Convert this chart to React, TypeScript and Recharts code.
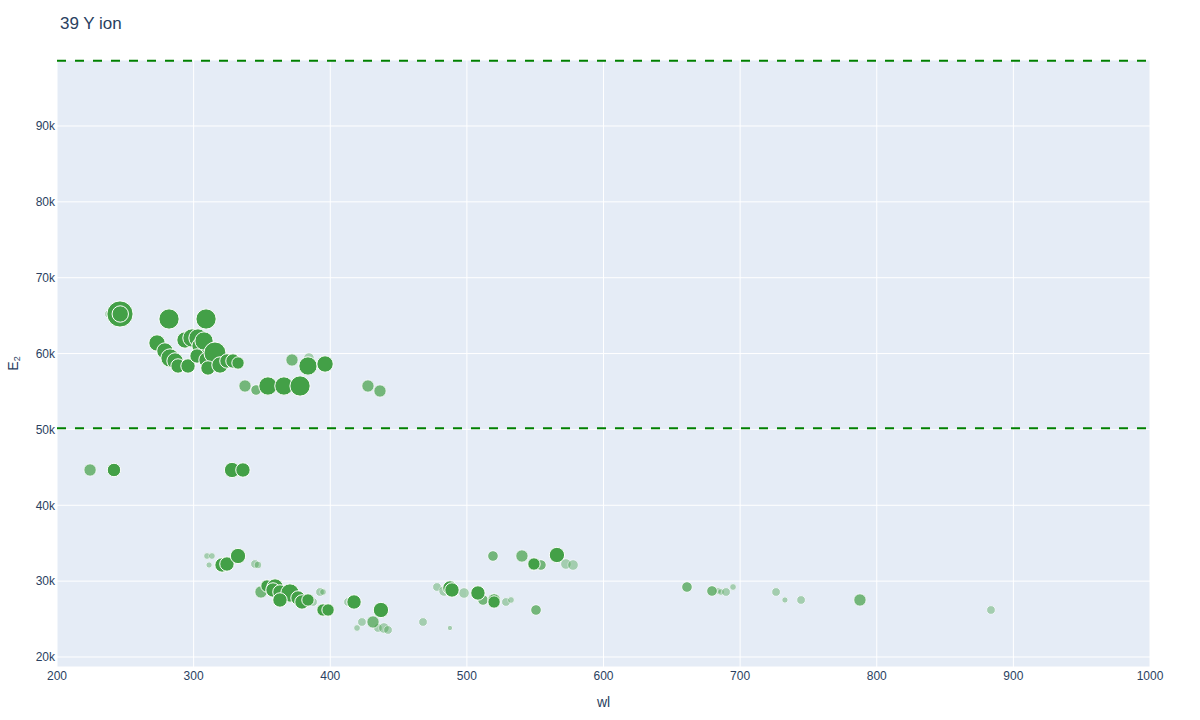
import React from 'react';
import {
  ScatterChart,
  Scatter,
  XAxis,
  YAxis,
  ZAxis,
  CartesianGrid,
  ReferenceLine,
} from 'recharts';

// wl = wavelength (nm), e = upper level energy (cm-1), i = relative line strength (0-100)
const strongLines = [
  { wl: 246.1, e: 65216, i: 100 },
  { wl: 246.3, e: 65216, i: 38 },
  { wl: 282.0, e: 64556, i: 59 },
  { wl: 309.1, e: 64556, i: 59 },
  { wl: 273.2, e: 61393, i: 38 },
  { wl: 279.0, e: 60339, i: 38 },
  { wl: 282.7, e: 59416, i: 48 },
  { wl: 286.4, e: 59020, i: 38 },
  { wl: 288.6, e: 58361, i: 29 },
  { wl: 295.9, e: 58361, i: 29 },
  { wl: 293.7, e: 61788, i: 38 },
  { wl: 298.8, e: 62052, i: 48 },
  { wl: 303.2, e: 62052, i: 48 },
  { wl: 304.7, e: 60998, i: 38 },
  { wl: 307.6, e: 61657, i: 48 },
  { wl: 302.5, e: 59680, i: 29 },
  { wl: 309.8, e: 59153, i: 38 },
  { wl: 315.6, e: 60075, i: 70 },
  { wl: 310.5, e: 58098, i: 29 },
  { wl: 319.3, e: 58493, i: 38 },
  { wl: 324.4, e: 59020, i: 29 },
  { wl: 328.8, e: 59020, i: 29 },
  { wl: 332.5, e: 58757, i: 21 },
  { wl: 354.4, e: 55724, i: 48 },
  { wl: 366.1, e: 55724, i: 48 },
  { wl: 377.9, e: 55724, i: 59 },
  { wl: 383.7, e: 58361, i: 48 },
  { wl: 396.2, e: 58625, i: 38 },
  { wl: 241.7, e: 44651, i: 25 },
  { wl: 328.1, e: 44651, i: 33 },
  { wl: 336.1, e: 44651, i: 29 },
  { wl: 320.8, e: 32127, i: 29 },
  { wl: 324.4, e: 32258, i: 29 },
  { wl: 332.5, e: 33313, i: 33 },
  { wl: 353.7, e: 29358, i: 21 },
  { wl: 359.6, e: 29226, i: 38 },
  { wl: 358.1, e: 28832, i: 29 },
  { wl: 363.2, e: 28569, i: 29 },
  { wl: 370.5, e: 28437, i: 48 },
  { wl: 363.2, e: 27514, i: 29 },
  { wl: 376.4, e: 27778, i: 29 },
  { wl: 379.3, e: 27251, i: 29 },
  { wl: 383.7, e: 27514, i: 21 },
  { wl: 394.7, e: 26196, i: 21 },
  { wl: 398.4, e: 26196, i: 21 },
  { wl: 417.4, e: 27251, i: 29 },
  { wl: 437.1, e: 26196, i: 33 },
  { wl: 487.6, e: 29095, i: 29 },
  { wl: 489.1, e: 28832, i: 29 },
  { wl: 508.1, e: 28437, i: 29 },
  { wl: 519.9, e: 27514, i: 21 },
  { wl: 519.9, e: 27251, i: 21 },
  { wl: 549.1, e: 32258, i: 21 },
  { wl: 565.9, e: 33445, i: 33 },
];

const mediumLines = [
  { wl: 337.6, e: 55724, i: 21 },
  { wl: 345.7, e: 55197, i: 15 },
  { wl: 372.0, e: 59153, i: 21 },
  { wl: 427.6, e: 55724, i: 21 },
  { wl: 436.4, e: 55065, i: 21 },
  { wl: 224.2, e: 44651, i: 21 },
  { wl: 349.3, e: 28569, i: 21 },
  { wl: 431.3, e: 24614, i: 21 },
  { wl: 519.1, e: 33313, i: 15 },
  { wl: 540.3, e: 33313, i: 21 },
  { wl: 548.4, e: 32127, i: 15 },
  { wl: 554.2, e: 32127, i: 15 },
  { wl: 511.8, e: 27514, i: 15 },
  { wl: 550.6, e: 26196, i: 15 },
  { wl: 661.1, e: 29226, i: 15 },
  { wl: 679.4, e: 28701, i: 15 },
  { wl: 787.7, e: 27514, i: 21 },
];

const weakLines = [
  { wl: 238.1, e: 65216, i: 9.5 },
  { wl: 384.4, e: 59416, i: 15 },
  { wl: 309.8, e: 33313, i: 5 },
  { wl: 313.4, e: 33313, i: 5 },
  { wl: 311.3, e: 32127, i: 4 },
  { wl: 344.9, e: 32258, i: 9.5 },
  { wl: 347.1, e: 32127, i: 7 },
  { wl: 387.4, e: 27251, i: 9.5 },
  { wl: 392.5, e: 28569, i: 9.5 },
  { wl: 394.7, e: 28569, i: 5 },
  { wl: 413.0, e: 27251, i: 9.5 },
  { wl: 419.6, e: 23823, i: 5 },
  { wl: 423.2, e: 24614, i: 9.5 },
  { wl: 434.9, e: 23823, i: 9.5 },
  { wl: 439.3, e: 23823, i: 15 },
  { wl: 442.3, e: 23559, i: 9.5 },
  { wl: 467.9, e: 24614, i: 9.5 },
  { wl: 487.6, e: 23823, i: 2.4 },
  { wl: 478.1, e: 29226, i: 9.5 },
  { wl: 483.3, e: 28701, i: 15 },
  { wl: 497.9, e: 28437, i: 15 },
  { wl: 528.6, e: 27251, i: 9.5 },
  { wl: 532.3, e: 27514, i: 5 },
  { wl: 572.5, e: 32258, i: 15 },
  { wl: 577.7, e: 32127, i: 15 },
  { wl: 683.8, e: 28701, i: 5 },
  { wl: 686.0, e: 28569, i: 5 },
  { wl: 689.7, e: 28569, i: 9.5 },
  { wl: 694.8, e: 29226, i: 5 },
  { wl: 726.3, e: 28569, i: 9.5 },
  { wl: 732.8, e: 27514, i: 4 },
  { wl: 744.6, e: 27514, i: 9.5 },
  { wl: 883.6, e: 26196, i: 9.5 },
];

// ionization limits (cm-1)
const ionLimits = [50146, 98590];

const xTicks = [200, 300, 400, 500, 600, 700, 800, 900, 1000];
const yTicks = [20000, 30000, 40000, 50000, 60000, 70000, 80000, 90000];

const FONT = '"Liberation Sans", Arial, sans-serif';
const TEXT = '#2a3f5f';
const GREEN = '#43a047';

const dot = (opacity: number) => (p: any) => {
  const r = p.width ? p.width / 2 : Math.sqrt((p.size || 64) / Math.PI);
  return (
    <circle
      cx={p.cx}
      cy={p.cy}
      r={r}
      fill={GREEN}
      stroke="#fff"
      strokeWidth={1}
      opacity={opacity}
    />
  );
};

const YLabel = (props: any) => {
  const vb = props.viewBox || { x: 0, y: 60, width: 57, height: 607 };
  const cx = 13;
  const cy = vb.y + vb.height / 2;
  return (
    <text
      x={cx}
      y={cy}
      transform={`rotate(-90 ${cx} ${cy})`}
      textAnchor="middle"
      dominantBaseline="central"
      fill={TEXT}
      fontFamily={FONT}
      fontSize={14}
    >
      E<tspan fontSize={9} dy={4}>2</tspan>
    </text>
  );
};

const XLabel = (props: any) => {
  const vb = props.viewBox || { x: 57, y: 667, width: 1093, height: 53 };
  return (
    <text
      x={vb.x + vb.width / 2}
      y={707}
      textAnchor="middle"
      fill={TEXT}
      fontFamily={FONT}
      fontSize={14}
    >
      wl
    </text>
  );
};

export default function App() {
  return (
    <div style={{ position: 'absolute', left: 0, top: 0, width: 1200, height: 720, background: '#fff' }}>
      <div
        style={{
          position: 'absolute',
          left: 60,
          top: 13,
          fontFamily: FONT,
          fontSize: 17,
          color: TEXT,
          lineHeight: '22px',
        }}
      >
        39 Y ion
      </div>
      <ScatterChart width={1200} height={720} margin={{ top: 60, right: 50, bottom: 0, left: 0 }}>
        <CartesianGrid fill="#e5ecf6" stroke="#fff" strokeWidth={1} />
        <XAxis
          type="number"
          dataKey="wl"
          domain={[200, 1000]}
          ticks={xTicks}
          allowDataOverflow
          height={53}
          tickLine={false}
          axisLine={false}
          tickSize={0}
          tickMargin={4}
          tick={{ fill: TEXT, fontSize: 12, fontFamily: FONT }}
          label={{ content: XLabel }}
        />
        <YAxis
          type="number"
          dataKey="e"
          domain={[18680, 98700]}
          ticks={yTicks}
          allowDataOverflow
          width={57}
          tickLine={false}
          axisLine={false}
          tickSize={0}
          tickMargin={2}
          tickFormatter={(v: number) => `${v / 1000}k`}
          tick={{ fill: TEXT, fontSize: 12, fontFamily: FONT }}
          label={{ content: YLabel }}
        />
        <ZAxis type="number" dataKey="i" domain={[0, 100]} range={[10, 540]} />
        <Scatter name="weak" data={weakLines} shape={dot(0.4)} isAnimationActive={false} />
        <Scatter name="medium" data={mediumLines} shape={dot(0.7)} isAnimationActive={false} />
        <Scatter name="strong" data={strongLines} shape={dot(1)} isAnimationActive={false} />
        {ionLimits.map((y) => (
          <ReferenceLine key={y} y={y} stroke="#008000" strokeWidth={2} strokeDasharray="9 9" />
        ))}
      </ScatterChart>
    </div>
  );
}
